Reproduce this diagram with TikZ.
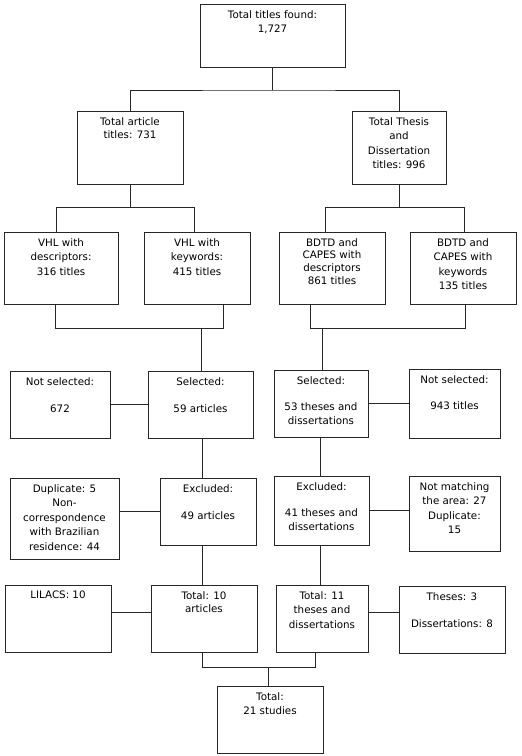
\documentclass[tikz,border=0pt]{standalone}
\usepackage{fontspec}
\setmainfont{DejaVu Sans}
\begin{document}
\begin{tikzpicture}[x=1pt,y=-1pt,
  box/.style={draw=black!85,line width=0.8pt,inner sep=0pt,outer sep=0pt,rectangle},
  txt/.style={inner sep=0pt,align=center,font=\fontsize{10.3}{14.5}\selectfont},
  tight/.style={font=\fontsize{10.3}{13}\selectfont},
  conn/.style={draw=black!85,line width=0.8pt}]
\useasboundingbox (0,0) rectangle (522,756);
\newcommand\mybox[7][]{%
  \node[box,minimum width={#5-#3},minimum height={#6-#4}] (#2) at ({(#3+#5)/2},{(#4+#6)/2}) {};
  \node[txt,anchor=north,#1] (#2-t) at ([yshift=-6pt]#2.north) {#7};}
% level 1
\mybox{t1}{200}{4}{345}{67}{Total titles found:\\1,727}
% level 2
\mybox[tight]{art}{77}{111}{183}{184}{Total article\\titles: 731}
\mybox{ths}{352}{111}{446}{184}{Total Thesis\\and\\Dissertation\\titles: 996}
% level 3
\mybox{vd}{4}{232}{118}{304}{VHL with\\descriptors:\\316 titles}
\mybox{vk}{144}{232}{250}{304}{VHL with\\keywords:\\415 titles}
\mybox[font=\fontsize{10.3}{12.7}\selectfont]{bd}{279}{232}{385}{304}{BDTD and\\CAPES with\\descriptors\\861 titles}
\mybox{bk}{410}{232}{516}{304}{BDTD and\\CAPES with\\keywords\\135 titles}
% level 4
\mybox{ns1}{10}{371}{110}{438}{Not selected:\\[12.5pt]672}
\mybox{s1}{148}{371}{253}{438}{Selected:\\[12.5pt]59 articles}
\mybox{s2}{274}{370}{368}{437}{Selected:\\[11.5pt]53 theses and\\dissertations}
\mybox{ns2}{409}{369}{500}{438}{Not selected:\\[11.5pt]943 titles}
% level 5
\mybox{dup}{10}{478}{119}{559}{Duplicate: 5\\Non-\\correspondence\\with Brazilian\\residence: 44}
\mybox{e1}{160}{478}{256}{545}{Excluded:\\[12.5pt]49 articles}
\mybox{e2}{274}{476}{369}{545}{Excluded:\\[11.5pt]41 theses and\\dissertations}
\mybox{nm}{409}{476}{500}{551}{Not matching\\the area: 27\\Duplicate:\\15}
% level 6
\mybox{lil}{5}{585}{111}{652}{LILACS: 10}
\mybox[tight]{tt1}{151}{585}{257}{652}{Total: 10\\articles}
\mybox{tt2}{276}{585}{368}{652}{Total: 11\\theses and\\dissertations}
\mybox{thd}{399}{586}{505}{653}{Theses: 3\\[12.5pt]Dissertations: 8}
% final
\mybox{fin}{217}{686}{323}{753}{Total:\\21 studies}
% connectors
\coordinate (j1) at (273,90);
\draw[conn] (t1.south) -- (t1.south |- j1);
\draw[conn] (art.north) |- (j1) -| (ths.north);
\coordinate (j2) at (130,207);
\coordinate (j2l) at (56,207);
\coordinate (j2r) at (194,207);
\draw[conn] (art.south) -- (j2);
\draw[conn] (j2l |- vd.north) -- (j2l) -- (j2r) -- (j2r |- vk.north);
\coordinate (j3) at (399,207);
\coordinate (j3l) at (325,207);
\coordinate (j3r) at (464,207);
\draw[conn] (ths.south) -- (j3);
\draw[conn] (j3l |- bd.north) -- (j3l) -- (j3r) -- (j3r |- bk.north);
\coordinate (j4) at (201,328);
\coordinate (j4l) at (55,328);
\coordinate (j4r) at (223,328);
\draw[conn] (j4l |- vd.south) -- (j4l) -- (j4r) -- (j4r |- vk.south);
\draw[conn] (j4) -- (j4 |- s1.north);
\coordinate (j5) at (322,328);
\coordinate (j5l) at (310,328);
\coordinate (j5r) at (465,328);
\draw[conn] (j5l |- bd.south) -- (j5l) -- (j5r) -- (j5r |- bk.south);
\draw[conn] (j5) -- (j5 |- s2.north);
\draw[conn] (ns1.east) -- (s1.west);
\draw[conn] (s2.east) -- (ns2.west);
\coordinate (v1) at (202,0);
\coordinate (v2) at (320,0);
\draw[conn] (v1 |- s1.south) -- (v1 |- e1.north);
\draw[conn] (v2 |- s2.south) -- (v2 |- e2.north);
\draw[conn] (e1.west -| dup.east) -- (e1.west);
\draw[conn] (e2.east) -- (e2.east -| nm.west);
\draw[conn] (v1 |- e1.south) -- (v1 |- tt1.north);
\draw[conn] (v2 |- e2.south) -- (v2 |- tt2.north);
\coordinate (h1) at (0,612);
\draw[conn] (h1 -| lil.east) -- (h1 -| tt1.west);
\draw[conn] (h1 -| tt2.east) -- (h1 -| thd.west);
\coordinate (j6) at (268,667);
\coordinate (j6l) at (202,667);
\coordinate (j6r) at (315,667);
\draw[conn] (j6l |- tt1.south) -- (j6l) -- (j6r) -- (j6r |- tt2.south);
\draw[conn] (j6) -- (j6 |- fin.north);
\end{tikzpicture}
\end{document}
